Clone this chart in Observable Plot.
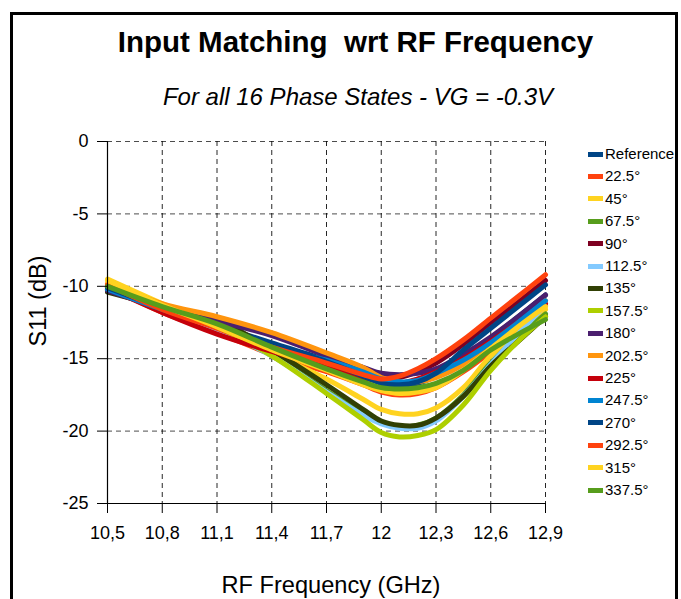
<!DOCTYPE html>
<html><head><meta charset="utf-8">
<script src="https://cdn.jsdelivr.net/npm/d3@7"></script>
<script src="https://cdn.jsdelivr.net/npm/@observablehq/plot@0.6"></script>
<style>
body{margin:0;background:#fff;font-family:"Liberation Sans",Arial,sans-serif;}
#wrap{position:relative;width:681px;height:599px;overflow:hidden;background:#fff;}
#frame{position:absolute;left:10px;top:12px;width:662px;height:700px;border:3px solid #000;}
#title{position:absolute;left:0;width:711px;top:25px;text-align:center;font-weight:bold;font-size:29.5px;white-space:pre;color:#000;}
#subtitle{position:absolute;left:0;width:716px;top:83px;text-align:center;font-style:italic;font-size:24px;color:#000;}
#xlabel{position:absolute;left:0;width:662px;top:572px;text-align:center;font-size:23.6px;color:#000;}
#ylabel{position:absolute;left:38px;top:301px;transform:translate(-50%,-50%) rotate(-90deg);font-size:23.5px;white-space:nowrap;color:#000;}
#chart{position:absolute;left:0;top:0;}
.leg{position:absolute;left:588px;font-size:15px;height:18px;line-height:18px;white-space:nowrap;color:#000;}
.sw{display:inline-block;width:15px;height:5px;vertical-align:middle;margin-right:2px;position:relative;top:-1px;}
</style>
</head><body>
<div id="wrap">
<div id="frame"></div>
<div id="chart"></div>
<div id="title">Input Matching  wrt RF Frequency</div>
<div id="subtitle">For all 16 Phase States - VG = -0.3V</div>
<div id="ylabel">S11 (dB)</div>
<div id="xlabel">RF Frequency (GHz)</div>
<div id="legend"></div>
</div>
<script>
const freqs = [10.5, 10.8, 11.1, 11.4, 11.7, 11.9, 12.0, 12.1, 12.2, 12.3, 12.45, 12.6, 12.75, 12.9];
const seriesNames = ["Reference","22.5°","45°","67.5°","90°","112.5°","135°","157.5°","180°","202.5°","225°","247.5°","270°","292.5°","315°","337.5°"];
const seriesColors = ["#004586","#ff420e","#ffd320","#579d1c","#7e0021","#83caff","#314004","#aecf00","#4b1f6f","#ff950e","#c5000b","#0084d1","#004586","#ff420e","#ffd320","#579d1c"];
const xTicks = [10.5, 10.8, 11.1, 11.4, 11.7, 12.0, 12.3, 12.6, 12.9];
const xTickLabels = ["10,5","10,8","11,1","11,4","11,7","12","12,3","12,6","12,9"];
const yTicks = [0, -5, -10, -15, -20, -25];
const yTickLabels = ["0","-5","-10","-15","-20","-25"];

const sRef   = [-10.1,-11.5,-12.7,-13.9,-15.1,-16.0,-16.5,-16.8,-16.7,-16.2,-15.0,-13.6,-12.1,-10.6];
const s22_5  = [-10.0,-11.8,-13.2,-14.7,-15.9,-16.8,-17.3,-17.5,-17.4,-17.0,-15.9,-14.5,-12.9,-11.3];
const s45    = [-9.5,-11.2,-12.8,-14.6,-16.4,-17.8,-18.5,-18.8,-18.8,-18.4,-17.0,-14.8,-13.2,-11.6];
const s67_5  = [-10.2,-11.6,-13.0,-14.8,-17.2,-18.8,-19.4,-19.7,-19.6,-19.1,-17.5,-15.3,-13.5,-11.9];
const s90    = [-10.2,-11.6,-12.9,-14.2,-15.3,-16.0,-16.4,-16.3,-15.9,-15.3,-14.0,-12.5,-11.1,-9.6];
const s112_5 = [-10.1,-11.6,-13.0,-14.8,-17.3,-18.9,-19.5,-19.8,-19.8,-19.3,-17.6,-15.4,-13.3,-11.3];
const s135   = [-10.4,-11.4,-12.3,-14.4,-16.8,-18.5,-19.3,-19.6,-19.6,-19.1,-17.6,-15.5,-13.8,-12.1];
const s157_5 = [-10.0,-11.4,-12.8,-14.8,-17.4,-19.2,-20.1,-20.4,-20.3,-19.9,-18.2,-15.8,-13.8,-12.1];
const s180   = [-10.3,-11.5,-12.4,-13.4,-14.8,-15.6,-16.0,-16.1,-16.0,-15.7,-14.7,-13.5,-12.1,-10.6];
const s202_5 = [-9.8,-11.2,-12.1,-13.2,-14.6,-15.6,-16.3,-16.6,-16.6,-16.3,-15.4,-14.0,-12.6,-11.0];
const s225   = [-10.1,-11.8,-13.3,-14.5,-15.6,-16.3,-16.6,-16.7,-16.4,-15.9,-15.0,-13.8,-12.5,-11.2];
const s247_5 = [-10.2,-11.6,-12.8,-14.2,-15.1,-15.9,-16.4,-16.6,-16.5,-16.0,-15.1,-13.9,-12.5,-11.0];
const s270   = [-10.1,-11.5,-12.8,-14.0,-15.2,-16.2,-16.7,-16.8,-16.6,-16.0,-14.4,-12.9,-11.4,-9.9];
const s292_5 = [-9.9,-11.6,-12.9,-14.2,-15.3,-16.1,-16.4,-16.2,-15.7,-15.0,-13.7,-12.2,-10.7,-9.2];
const s315   = [-9.6,-11.3,-12.8,-14.4,-15.8,-16.8,-17.2,-17.4,-17.3,-17.0,-15.8,-14.3,-12.8,-11.4];
const s337_5 = [-10.0,-11.4,-12.6,-14.2,-15.7,-16.6,-17.0,-17.1,-17.0,-16.7,-15.8,-14.4,-13.3,-12.3];

const allSeries = [sRef,s22_5,s45,s67_5,s90,s112_5,s135,s157_5,s180,s202_5,s225,s247_5,s270,s292_5,s315,s337_5];
const rows = [];
allSeries.forEach((vals, si) => vals.forEach((v, i) => rows.push({series: seriesNames[si], f: freqs[i], s11: v})));

const chart = Plot.plot({
  width: 681, height: 599,
  marginLeft: 107, marginRight: 136, marginTop: 141, marginBottom: 96,
  style: {fontSize: "18px", fontFamily: "'Liberation Sans', Arial, sans-serif", background: "transparent", color: "#000"},
  x: {domain: [10.5, 12.9]},
  y: {domain: [-25, 0]},
  color: {domain: seriesNames, range: seriesColors},
  marks: [
    Plot.gridX({ticks: xTicks, stroke: "#000", strokeOpacity: 0.85, strokeDasharray: "5,4"}),
    Plot.gridY({ticks: yTicks, stroke: "#000", strokeOpacity: 0.7, strokeDasharray: "5,4"}),
    Plot.line(rows, {x: "f", y: "s11", z: "series", stroke: (d) => d.series, strokeWidth: 5, curve: "catmull-rom"}),
    Plot.ruleX([10.5], {stroke: "#000", strokeWidth: 1.2}),
    Plot.ruleY([-25], {stroke: "#000", strokeWidth: 1.2}),
    Plot.axisX({ticks: xTicks, tickSize: 10, tickPadding: 13, fontSize: 18, tickFormat: d => xTickLabels[xTicks.indexOf(d)], label: null}),
    Plot.axisY({ticks: yTicks, tickSize: 10, tickPadding: 9, fontSize: 18, tickFormat: d => yTickLabels[yTicks.indexOf(d)], label: null})
  ]
});
document.getElementById("chart").appendChild(chart);

const leg = document.getElementById("legend");
seriesNames.forEach((n, i) => {
  const d = document.createElement("div");
  d.className = "leg";
  d.style.top = (145 + i * 22.4) + "px";
  d.innerHTML = `<span class="sw" style="background:${seriesColors[i]}"></span>${n}`;
  leg.appendChild(d);
});
</script>
</body></html>
